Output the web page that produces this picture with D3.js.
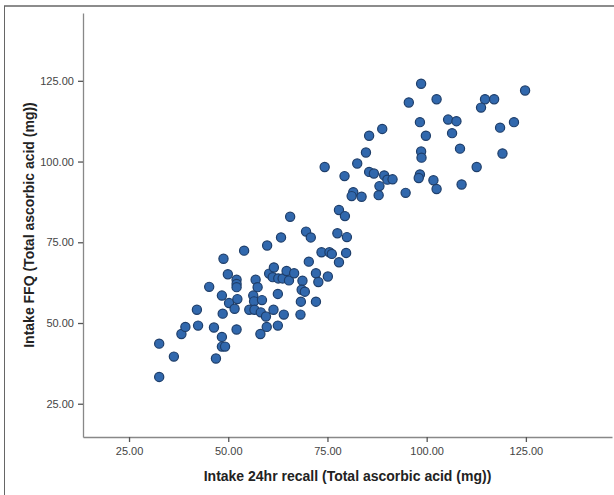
<!DOCTYPE html>
<html>
<head>
<meta charset="utf-8">
<script src="https://cdn.jsdelivr.net/npm/d3@7"></script>
<style>
    body { margin: 0; background: #fff; }
    #chart svg { display: block; }
    .tick text { font-family: "Liberation Sans", Arial, sans-serif; font-size: 11px; fill: #444; }
    .axis-title { font-family: "Liberation Sans", Arial, sans-serif; font-size: 14px; font-weight: bold; fill: #222; }
</style>
</head>
<body>
<div id="chart"></div>
<script>
    // 24hr recall intake (x) vs FFQ intake (y), total ascorbic acid (mg)
    const recall = [32.6, 32.6, 36.3, 38.2, 39.2, 42.1, 42.4, 45.2, 46.4, 46.9,
        48.4, 48.4, 49.2, 48.4, 48.6, 48.8, 49.9, 50.2, 51.6, 52.1,
        52.3, 52.1, 52.1, 52.1, 54.0, 56.9, 57.4, 56.3, 56.5, 55.3,
        56.6, 58.5, 58.2, 59.5, 58.1, 59.7, 61.4, 62.5, 62.5, 64.0,
        68.2, 68.3, 72.1, 59.8, 63.3, 60.3, 61.5, 61.2, 62.6, 63.7,
        64.7, 65.3, 66.6, 68.7, 68.5, 69.3, 70.3, 72.1, 72.7, 75.1,
        73.5, 75.5, 76.1, 77.9, 69.6, 70.8, 77.5, 65.6, 77.9, 98.6,
        95.5, 102.5, 114.7, 117.0, 113.7, 124.8, 98.3, 105.4, 107.5, 99.8,
        106.4, 118.5, 122.0, 88.8, 85.5, 84.7, 98.6, 98.7, 108.4, 119.1,
        74.3, 82.5, 79.3, 85.5, 86.7, 89.3, 90.1, 91.4, 88.1, 98.3,
        98.0, 101.7, 102.5, 108.8, 112.6, 94.7, 81.5, 81.1, 83.6, 87.9,
        79.4, 79.9, 79.7];
    const ffq = [33.3, 43.6, 39.6, 46.6, 48.8, 54.1, 49.2, 61.2, 48.6, 39.0,
        45.7, 42.7, 42.7, 58.5, 52.9, 69.9, 65.1, 56.2, 54.4, 48.0,
        57.4, 63.4, 62.1, 61.1, 72.4, 63.4, 61.1, 58.5, 56.7, 54.1,
        54.1, 57.1, 53.3, 52.0, 46.6, 48.8, 54.1, 49.2, 59.0, 52.6,
        52.6, 56.6, 56.6, 74.0, 76.5, 65.3, 67.2, 64.2, 63.8, 63.8,
        66.1, 63.2, 65.4, 63.1, 60.3, 59.7, 69.0, 65.4, 62.7, 64.4,
        71.9, 71.9, 71.4, 68.8, 78.3, 76.5, 77.8, 82.9, 85.0, 124.1,
        118.3, 119.3, 119.3, 119.3, 116.7, 122.0, 112.2, 113.0, 112.5, 108.0,
        108.8, 110.5, 112.2, 110.1, 108.0, 102.8, 103.1, 101.2, 104.0, 102.5,
        98.3, 99.4, 95.5, 96.8, 96.3, 95.7, 94.4, 94.5, 92.4, 96.0,
        94.9, 94.2, 91.5, 92.9, 98.3, 90.3, 90.5, 89.3, 89.1, 89.6,
        83.1, 76.6, 71.7];
    const points = recall.map((d, i) => ({ x: d, y: ffq[i] }));

    const xTicks = [25, 50, 75, 100, 125];
    const yTicks = [25, 50, 75, 100, 125];
    const xLabel = "Intake 24hr recall (Total ascorbic acid (mg))";
    const yLabel = "Intake FFQ (Total ascorbic acid (mg))";

    const width = 614, height = 495;
    const plot = { left: 83, right: 612, top: 13, bottom: 437 };

    const svg = d3.select("#chart").append("svg")
        .attr("width", width)
        .attr("height", height);

    // outer frame
    svg.append("line").attr("x1", 4).attr("x2", width).attr("y1", 6).attr("y2", 6)
        .attr("stroke", "#666").attr("stroke-width", 1.5);
    svg.append("line").attr("x1", 4.5).attr("x2", 4.5).attr("y1", 6).attr("y2", height)
        .attr("stroke", "#666").attr("stroke-width", 1);

    let x = d3.scaleLinear().domain([13.4, 146.7]).range([plot.left, plot.right]);
    let y = d3.scaleLinear().domain([14.7, 146.0]).range([plot.bottom, plot.top]);

    let xAxis = svg.append("g")
        .attr("transform", `translate(0,${plot.bottom})`)
        .call(d3.axisBottom(x).tickValues(xTicks).tickFormat(d3.format(".2f")).tickSize(5).tickSizeOuter(0));
    let yAxis = svg.append("g")
        .attr("transform", `translate(${plot.left},0)`)
        .call(d3.axisLeft(y).tickValues(yTicks).tickFormat(d3.format(".2f")).tickSize(5).tickSizeOuter(0));

    [xAxis, yAxis].forEach(g => {
        g.select(".domain").attr("stroke", "#888").attr("stroke-width", 1.3);
        g.selectAll(".tick line").attr("stroke", "#555").attr("stroke-width", 1.3);
    });
    xAxis.selectAll(".tick text").attr("dy", "0.9em");
    yAxis.selectAll(".tick text").attr("dx", "-0.1em");

    svg.append("g")
        .selectAll("circle")
        .data(points)
        .join("circle")
        .attr("cx", d => x(d.x))
        .attr("cy", d => y(d.y))
        .attr("r", 4.6)
        .attr("fill", "#3168ad")
        .attr("stroke", "#1e3e6a")
        .attr("stroke-width", 1.2);

    svg.append("text")
        .attr("class", "axis-title")
        .attr("x", (plot.left + plot.right) / 2)
        .attr("y", 481)
        .attr("text-anchor", "middle")
        .text(xLabel);

    svg.append("text")
        .attr("class", "axis-title")
        .attr("transform", `translate(34,${(plot.top + plot.bottom) / 2}) rotate(-90)`)
        .attr("text-anchor", "middle")
        .text(yLabel);
</script>
</body>
</html>
